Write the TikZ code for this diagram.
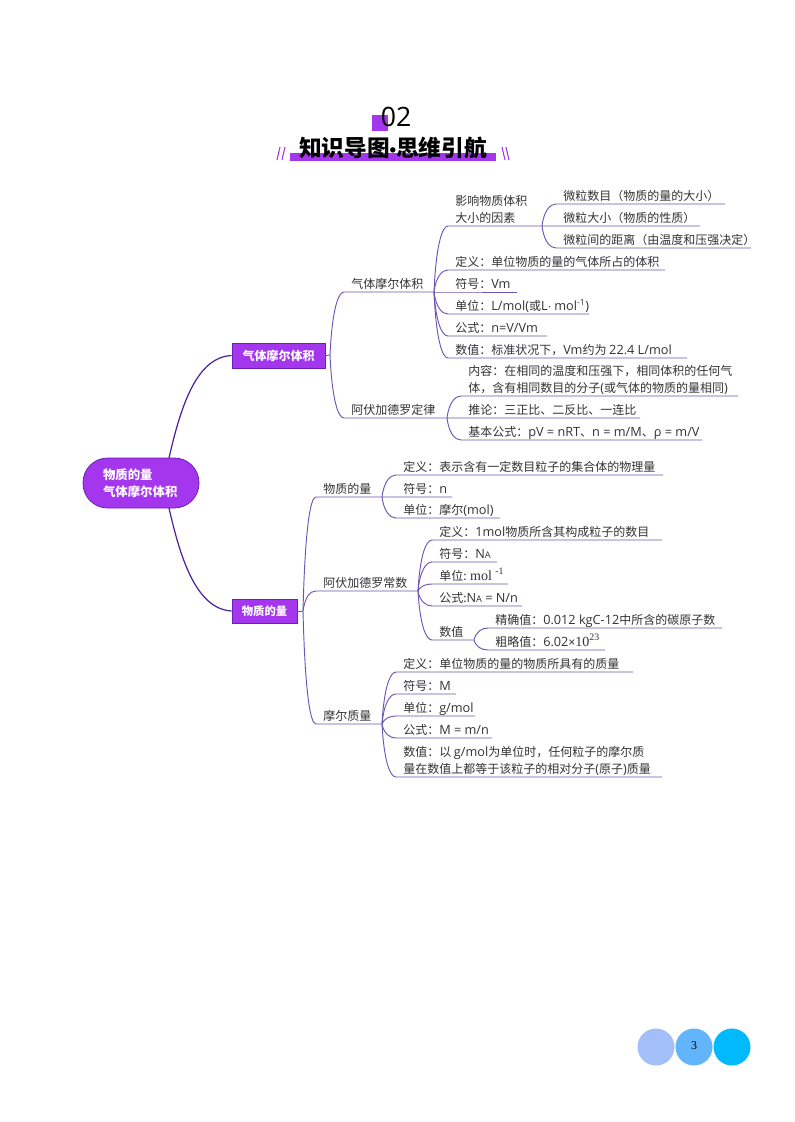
\documentclass[tikz,border=0pt]{standalone}
\usepackage{fontspec}
\setmainfont{Noto Sans CJK SC}
\newfontfamily\serfont{Liberation Serif}
\newfontfamily\lightfont{Open Sans}
\newfontfamily\latfont[Scale=1.06]{Open Sans}
\newfontfamily\dotfont{Liberation Sans}
\newcommand\lt[1]{{\latfont #1}}
\usetikzlibrary{calc}
\definecolor{boxfill}{HTML}{A436EE}
\definecolor{boxedge}{HTML}{6A20B8}
\definecolor{rootline}{HTML}{4A1FA0}
\definecolor{subline}{HTML}{6E55B5}
\definecolor{txtgray}{HTML}{333333}
\tikzset{
  txt/.style={inner sep=0pt,align=left,text=txtgray,text depth=2.5pt,font=\fontsize{9}{12.75}\selectfont},
  conn/.style={draw=subline,line width=0.7pt},
  rootconn/.style={draw=rootline,line width=0.9pt},
  branchbox/.style={draw=boxedge,fill=boxfill,line width=0.6pt,text=white,inner sep=0pt,font=\bfseries\fontsize{9}{12}\selectfont},
}
\newcommand\leaf[6]{%
  \node[txt,anchor=south west] (#2) at (#3,#5-0.3) {#4};
  \coordinate (#2-a) at (#3-7,#5);
  \coordinate (#2-b) at (#6,#5);
  \draw[conn] (#1) .. controls ($(#1)!.7!(#1 |- #2-a)+(2,0)$) and ($(#2-a)+(-6,0)$) .. (#2-a) -- (#2-b);
}
\begin{document}
\begin{tikzpicture}[x=0.75pt,y=-0.75pt]
\useasboundingbox (0,0) rectangle (794,1122);
\fill[white] (0,0) rectangle (794,1122);
% header
\fill[boxfill] (372,115) rectangle (388,131);
\node[inner sep=0pt,font=\lightfont\fontsize{20}{24}\selectfont] (num) at (396,117) {02};
\fill[boxfill] (290,153) rectangle (496,161);
\node[inner sep=0pt,font=\bfseries\fontsize{17}{20}\selectfont] (title) at (393,148) {知识导图{\dotfont\bfseries\fontsize{14}{16}\selectfont •}思维引航};
\draw[boxfill,line width=0.8pt] (280,147) -- (277,160) (285,147) -- (282,160);
\draw[boxfill,line width=0.8pt] (502,147) -- (505,160) (506,147) -- (509,160);
% root and branches
\node[draw=boxedge,fill=boxfill,line width=0.6pt,text=white,rounded corners=18.5pt,minimum width=87pt,minimum height=37.5pt,inner xsep=15pt,inner ysep=0pt,text width=57pt,align=left,font=\bfseries\fontsize{9.3}{12.75}\selectfont] (root) at (141,483) {物质的量\\气体摩尔体积};
\node[branchbox,minimum width=69.75pt,minimum height=18.75pt] (boxA) at (278.5,355.5) {气体摩尔体积};
\node[branchbox,minimum width=48.75pt,minimum height=18pt,font=\bfseries\fontsize{8.5}{12}\selectfont] (boxB) at (264.5,611) {物质的量};
\coordinate (rt) at (169,458);
\coordinate (rb) at (169,508);
\draw[rootconn] (rt) .. controls (181,405) and (197,357) .. (boxA.west);
\draw[rootconn] (rb) .. controls (181,561) and (197,609) .. (boxB.west);
\coordinate (hA) at (330,355);
\coordinate (hB) at (303,611);
\draw[conn] (boxA.east) -- (hA);
\draw[conn] (boxB.east) -- (hB);
% gas molar volume
\coordinate (h1) at (434,292);
\coordinate (h11) at (542,226);
\coordinate (h2) at (447,418);
\leaf{hA}{gmv}{351}{气体摩尔体积}{292}{434}
\leaf{h1}{yx}{455}{影响物质体积\\大小的因素}{226}{542}
\leaf{h11}{wl1}{563}{微粒数目（物质的量的大小）}{204}{725}
\leaf{h11}{wl2}{563}{微粒大小（物质的性质）}{226}{700}
\leaf{h11}{wl3}{563}{微粒间的距离（由温度和压强决定）}{248}{751}
\leaf{h1}{gd}{455}{定义：单位物质的量的气体所占的体积}{270}{665}
\leaf{h1}{gf}{455}{符号：\lt{Vm}}{292}{517}
\leaf{h1}{gu}{455}{单位：\lt{L/mol(}或\lt{L}{\dotfont ·} \lt{mol\textsuperscript{-1})}}{314}{589}
\leaf{h1}{gg}{455}{公式：\lt{n=V/Vm}}{336}{547}
\leaf{h1}{gs}{455}{数值：标准状况下，\lt{Vm}约为 \lt{22.4 L/mol}}{358}{687}
\leaf{hA}{afl}{351}{阿伏加德罗定律}{418}{447}
\leaf{h2}{a1}{468}{内容：在相同的温度和压强下，相同体积的任何气\\体，含有相同数目的分子\lt{(}或气体的物质的量相同\lt{)}}{396}{738}
\leaf{h2}{a2}{468}{推论：三正比、二反比、一连比}{418}{640}
\leaf{h2}{a3}{468}{基本公式：\lt{pV = nRT}、\lt{n = m/M}、\lt{ρ = m/V}}{440}{702}
% amount of substance
\coordinate (h3) at (382,497);
\coordinate (h4) at (418,591);
\coordinate (h41) at (474,640);
\coordinate (h5) at (382,724);
\leaf{hB}{wz}{323}{物质的量}{497}{382}
\leaf{h3}{w1}{403}{定义：表示含有一定数目粒子的集合体的物理量}{475}{663}
\leaf{h3}{w2}{403}{符号：\lt{n}}{497}{452}
\leaf{h3}{w3}{403}{单位：摩尔\lt{(mol)}}{518}{500}
\leaf{hB}{ac}{323}{阿伏加德罗常数}{591}{418}
\leaf{h4}{c1}{439}{定义：\lt{1mol}物质所含其构成粒子的数目}{540}{662}
\leaf{h4}{c2}{439}{符号：\lt{N{\fontsize{6.5}{8}\selectfont A}}}{562}{497}
\leaf{h4}{c3}{439}{单位: {\serfont\fontsize{10.5}{12}\selectfont mol \textsuperscript{-1}}}{584}{508}
\leaf{h4}{c4}{439}{公式:\lt{N{\fontsize{6.5}{8}\selectfont A} = N/n}}{606}{522}
\leaf{h4}{c5}{439}{数值}{640}{474}
\leaf{h41}{c51}{495}{精确值：\lt{0.012 kgC-12}中所含的碳原子数}{628}{722}
\leaf{h41}{c52}{495}{粗略值：\lt{6.02}{\dotfont ×}{\serfont\fontsize{10.5}{12}\selectfont 10\textsuperscript{23}}}{650}{605}
\leaf{hB}{mz}{323}{摩尔质量}{724}{382}
\leaf{h5}{m1}{403}{定义：单位物质的量的物质所具有的质量}{672}{633}
\leaf{h5}{m2}{403}{符号：\lt{M}}{694}{456}
\leaf{h5}{m3}{403}{单位：\lt{g/mol}}{716}{475}
\leaf{h5}{m4}{403}{公式：\lt{M = m/n}}{738}{492}
\leaf{h5}{m5}{403}{数值：以 \lt{g/mol}为单位时，任何粒子的摩尔质\\量在数值上都等于该粒子的相对分子\lt{(}原子\lt{)}质量}{777}{662}
% page number
\fill[color={rgb,255:red,163;green,191;blue,250}] (656,1047) circle[radius=18.5];
\fill[color={rgb,255:red,98;green,181;blue,251}] (694,1047) circle[radius=18.5];
\fill[color={rgb,255:red,0;green,186;blue,253}] (732,1047) circle[radius=18.5];
\node[inner sep=0pt,font=\serfont\fontsize{9}{11}\selectfont] (page) at (694,1046) {3};
\end{tikzpicture}
\end{document}
